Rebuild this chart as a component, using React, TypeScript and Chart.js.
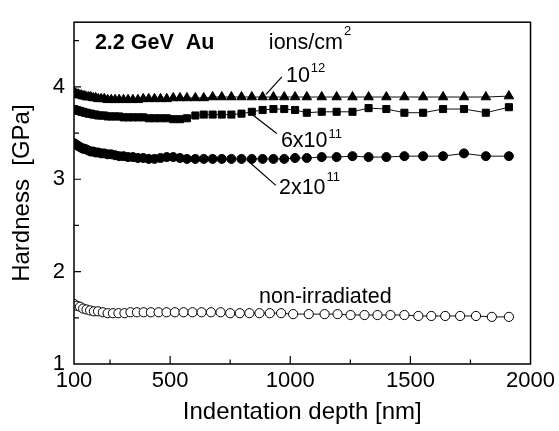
import React, { useEffect, useRef } from "react";
import { Chart, registerables } from "chart.js";

Chart.register(...registerables);

// ---------- data ----------
const depthIrradiated = [
  100, 106, 112, 118, 124, 131, 138, 145, 153, 161,
  170, 180, 190, 201, 213, 226, 240, 255, 271, 288,
  306, 325, 345, 366, 388, 411, 435, 460, 486, 513,
  541, 570, 605, 640, 677, 715, 755, 797, 840, 885,
  930, 975, 1020, 1069, 1131, 1193, 1259, 1326, 1400, 1475,
  1553, 1636, 1723, 1814, 1910,
];

const hardness1e12 = [
  3.94, 3.93, 3.92, 3.92, 3.91, 3.91, 3.9, 3.9, 3.89, 3.89,
  3.89, 3.88, 3.88, 3.87, 3.87, 3.87, 3.86, 3.86, 3.86, 3.86,
  3.86, 3.86, 3.86, 3.86, 3.87, 3.87, 3.87, 3.87, 3.87, 3.88,
  3.88, 3.88, 3.88, 3.88, 3.89, 3.89, 3.89, 3.89, 3.89, 3.89,
  3.89, 3.89, 3.89, 3.89, 3.89, 3.89, 3.89, 3.89, 3.89, 3.89,
  3.89, 3.89, 3.89, 3.89, 3.9,
];

const hardness6e11 = [
  3.76, 3.75, 3.75, 3.74, 3.74, 3.73, 3.73, 3.72, 3.72, 3.71,
  3.71, 3.7, 3.7, 3.69, 3.69, 3.69, 3.68, 3.68, 3.68, 3.68,
  3.67, 3.67, 3.67, 3.67, 3.67, 3.66, 3.66, 3.66, 3.66, 3.65,
  3.65, 3.66, 3.69, 3.7, 3.7, 3.7, 3.7, 3.71, 3.73, 3.75,
  3.76, 3.76, 3.75, 3.72, 3.73, 3.73, 3.73, 3.77, 3.76, 3.72,
  3.72, 3.76, 3.76, 3.72, 3.78,
];

const hardness2e11 = [
  3.39, 3.38, 3.37, 3.36, 3.35, 3.34, 3.33, 3.33, 3.32, 3.31,
  3.3, 3.3, 3.29, 3.29, 3.28, 3.28, 3.27, 3.27, 3.26, 3.25,
  3.25, 3.24, 3.24, 3.23, 3.23, 3.22, 3.22, 3.23, 3.24, 3.24,
  3.23, 3.22, 3.22, 3.22, 3.22, 3.22, 3.22, 3.22, 3.22, 3.22,
  3.22, 3.22, 3.23, 3.23, 3.24, 3.24, 3.25, 3.24, 3.24, 3.25,
  3.25, 3.25, 3.28, 3.25, 3.25,
];

const depthUnirradiated = [
  100, 112, 125, 138, 152, 167, 183, 200, 220, 240,
  262, 285, 310, 335, 362, 390, 420, 452, 485, 520,
  556, 593, 631, 670, 710, 750, 790, 830, 872, 915,
  962, 1012, 1077, 1143, 1197, 1251, 1309, 1363, 1417, 1475,
  1533, 1587, 1645, 1707, 1773, 1839, 1910,
];

const hardnessUnirradiated = [
  1.65, 1.63, 1.62, 1.6, 1.59, 1.58, 1.57, 1.57, 1.56, 1.55,
  1.55, 1.55, 1.55, 1.56, 1.56, 1.56, 1.56, 1.56, 1.56, 1.56,
  1.56, 1.56, 1.56, 1.56, 1.56, 1.55, 1.55, 1.55, 1.55, 1.55,
  1.55, 1.54, 1.54, 1.54, 1.54, 1.53, 1.53, 1.53, 1.53, 1.53,
  1.52, 1.52, 1.52, 1.52, 1.52, 1.51, 1.51,
];

const xTickLabels = [100, 500, 1000, 1500, 2000];
const xMajorMarks = [500, 1000, 1500];
const xMinorMarks = [250, 750, 1250, 1750];
const yTickLabels = [1, 2, 3, 4];
const yMajorMarks = [2, 3, 4];
const yMinorMarks = [1.5, 2.5, 3.5, 4.5];

const X_MIN = 100;
const X_MAX = 2000;
const Y_MIN = 1;
const Y_MAX = 4.7;

// annotations (data coordinates)
const seriesLabels = [
  { text: "10", sup: "12", x: 982, y: 4.055, raise: 10, from: [899, 3.918], to: [965, 4.108] },
  { text: "6x10", sup: "11", x: 961, y: 3.347, raise: 9, from: [828, 3.727], to: [944, 3.495] },
  { text: "2x10", sup: "11", x: 953, y: 2.839, raise: 13, from: [820, 3.209], to: [940, 2.934] },
  { text: "non-irradiated", sup: "", x: 870, y: 1.655, raise: 0, from: null, to: null },
  { text: "ions/cm", sup: "2", x: 911, y: 4.414, raise: 14, from: null, to: null },
];
const headline = { text: "2.2 GeV  Au", x: 187, y: 4.414 };

const FONT = "'Liberation Sans', Arial, sans-serif";

const toPoints = (xs: number[], ys: number[]) => xs.map((x, i) => ({ x, y: ys[i] }));

const framePlugin = {
  id: "frameAndNotes",
  afterDatasetsDraw(chart: any) {
    const { ctx, chartArea, scales } = chart;
    const { left, right, top, bottom } = chartArea;
    const xs = scales.x;
    const ys = scales.y;
    ctx.save();
    ctx.strokeStyle = "#000";
    ctx.lineWidth = 1.5;
    ctx.strokeRect(left, top, right - left, bottom - top);

    ctx.lineWidth = 1.2;
    ctx.beginPath();
    xMajorMarks.forEach((v) => {
      const p = xs.getPixelForValue(v);
      ctx.moveTo(p, bottom);
      ctx.lineTo(p, bottom - 8);
    });
    xMinorMarks.forEach((v) => {
      const p = xs.getPixelForValue(v);
      ctx.moveTo(p, bottom);
      ctx.lineTo(p, bottom - 4.5);
    });
    yMajorMarks.forEach((v) => {
      const p = ys.getPixelForValue(v);
      ctx.moveTo(left, p);
      ctx.lineTo(left + 7, p);
    });
    yMinorMarks.forEach((v) => {
      const p = ys.getPixelForValue(v);
      ctx.moveTo(left, p);
      ctx.lineTo(left + 5, p);
    });
    ctx.stroke();

    // leader lines
    ctx.lineWidth = 1.2;
    ctx.beginPath();
    seriesLabels.forEach((l) => {
      if (!l.from || !l.to) return;
      ctx.moveTo(xs.getPixelForValue(l.from[0]), ys.getPixelForValue(l.from[1]));
      ctx.lineTo(xs.getPixelForValue(l.to[0]), ys.getPixelForValue(l.to[1]));
    });
    ctx.stroke();

    ctx.fillStyle = "#000";
    ctx.textBaseline = "alphabetic";
    ctx.textAlign = "left";
    seriesLabels.forEach((l) => {
      const px = xs.getPixelForValue(l.x);
      const py = ys.getPixelForValue(l.y);
      ctx.font = `21.5px ${FONT}`;
      ctx.fillText(l.text, px, py);
      if (l.sup) {
        const w = ctx.measureText(l.text).width;
        ctx.font = `13px ${FONT}`;
        ctx.fillText(l.sup, px + w + 1, py - l.raise);
      }
    });
    ctx.font = `bold 21.5px ${FONT}`;
    ctx.fillText(headline.text, xs.getPixelForValue(headline.x), ys.getPixelForValue(headline.y));
    ctx.restore();
  },
};

export default function App() {
  const canvasRef = useRef<HTMLCanvasElement | null>(null);

  useEffect(() => {
    const canvas = canvasRef.current;
    if (!canvas) return;
    Chart.defaults.font.family = FONT;
    Chart.defaults.color = "#000";

    const lineCommon = {
      borderColor: "#111",
      borderWidth: 1,
      showLine: true,
      tension: 0,
      clip: 0,
      pointBorderColor: "#000",
      pointBorderWidth: 1,
    };

    const chart = new Chart(canvas, {
      type: "scatter",
      data: {
        datasets: [
          {
            ...lineCommon,
            label: "non-irradiated",
            data: toPoints(depthUnirradiated, hardnessUnirradiated),
            pointStyle: "circle",
            pointRadius: 4.6,
            pointBackgroundColor: "#fff",
          },
          {
            ...lineCommon,
            label: "2x10^11",
            data: toPoints(depthIrradiated, hardness2e11),
            pointStyle: "circle",
            pointRadius: 4.5,
            pointBackgroundColor: "#000",
          },
          {
            ...lineCommon,
            label: "6x10^11",
            data: toPoints(depthIrradiated, hardness6e11),
            pointStyle: "rect",
            pointRadius: 5,
            pointBackgroundColor: "#000",
          },
          {
            ...lineCommon,
            label: "10^12",
            data: toPoints(depthIrradiated, hardness1e12),
            pointStyle: "triangle",
            pointRadius: 5.5,
            pointBackgroundColor: "#000",
          },
        ],
      } as any,
      options: {
        responsive: false,
        animation: false,
        events: [],
        layout: { padding: { left: 0, top: 12, right: 26, bottom: 0 } },
        plugins: {
          legend: { display: false },
          tooltip: { enabled: false },
        },
        scales: {
          x: {
            type: "linear",
            min: X_MIN,
            max: X_MAX,
            afterBuildTicks: (s: any) => {
              s.ticks = xTickLabels.map((v) => ({ value: v }));
            },
            afterFit: (s: any) => {
              s.height = 67;
            },
            grid: { display: false, drawTicks: false },
            border: { display: false },
            ticks: {
              padding: 4,
              autoSkip: false,
              maxRotation: 0,
              color: "#000",
              font: { size: 22, family: FONT },
              callback: (v: any) => String(v),
            },
            title: {
              display: true,
              text: "Indentation depth [nm]",
              color: "#000",
              font: { size: 24, family: FONT },
              padding: { top: 0, bottom: 4 },
            },
          },
          y: {
            type: "linear",
            min: Y_MIN,
            max: Y_MAX,
            afterBuildTicks: (s: any) => {
              s.ticks = yTickLabels.map((v) => ({ value: v }));
            },
            afterFit: (s: any) => {
              s.width = 74;
            },
            grid: { display: false, drawTicks: false },
            border: { display: false },
            ticks: {
              padding: 9,
              autoSkip: false,
              color: "#000",
              font: { size: 22, family: FONT },
              callback: (v: any) => String(v),
            },
            title: {
              display: true,
              text: "Hardness  [GPa]",
              color: "#000",
              font: { size: 24, family: FONT },
              padding: { top: 8, bottom: 0 },
            },
          },
        },
      } as any,
      plugins: [framePlugin],
    });

    return () => chart.destroy();
  }, []);

  return (
    <div style={{ position: "fixed", left: 0, top: 0, width: 559, height: 431, background: "#fff" }}>
      <canvas ref={canvasRef} width={559} height={431} style={{ display: "block", width: 559, height: 431 }} />
    </div>
  );
}
